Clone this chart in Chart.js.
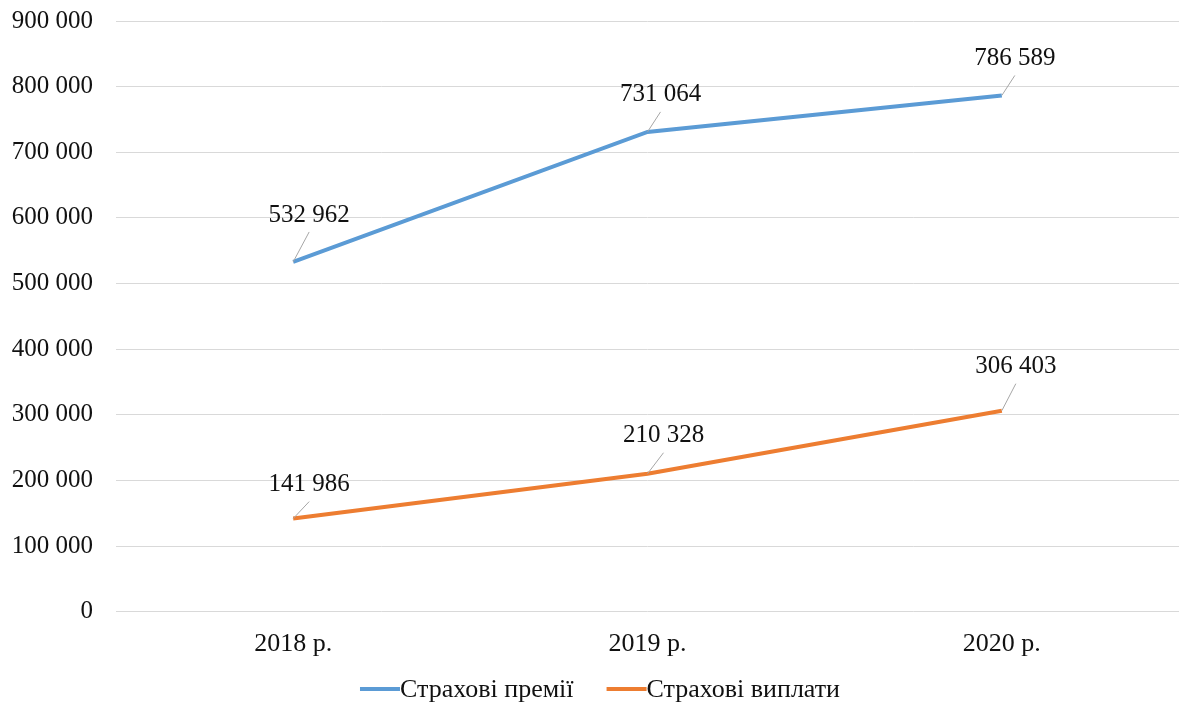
<!DOCTYPE html>
<html>
<head>
<meta charset="utf-8">
<script src="https://cdn.jsdelivr.net/npm/chart.js@4.4.1/dist/chart.umd.min.js"></script>
<style>
html,body{margin:0;padding:0;background:#fff;}
canvas{display:block;}
</style>
</head>
<body>
<canvas id="c" width="1179" height="704"></canvas>
<script>
const categories = ['2018 р.', '2019 р.', '2020 р.'];
const premiums = [532962, 731064, 786589];
const payouts = [141986, 210328, 306403];
const seriesNames = ['Страхові премії', 'Страхові виплати'];
const yTicks = [0, 100000, 200000, 300000, 400000, 500000, 600000, 700000, 800000, 900000];

const FONT = '"Liberation Serif", "Times New Roman", serif';
const fmt = v => String(v).replace(/\B(?=(\d{3})+(?!\d))/g, ' ');

// label placement (style), per dataset per point: [dx, dy] of label centre
const labelPlacement = [
  [[16, -47], [13, -37], [13, -37]],
  [[16, -34], [16, -38], [14, -44]]
];

const dataLabels = {
  id: 'dataLabels',
  afterDatasetsDraw(chart) {
    const ctx = chart.ctx;
    ctx.save();
    chart.data.datasets.forEach((ds, di) => {
      const meta = chart.getDatasetMeta(di);
      meta.data.forEach((pt, i) => {
        const [dx, dy] = labelPlacement[di][i];
        const lx = pt.x + dx, ly = pt.y + dy;
        ctx.strokeStyle = '#a6a6a6';
        ctx.lineWidth = 1;
        ctx.beginPath();
        ctx.moveTo(pt.x, pt.y);
        ctx.lineTo(lx, ly + 17);
        ctx.stroke();
        ctx.fillStyle = '#111';
        ctx.font = '25px ' + FONT;
        ctx.textAlign = 'center';
        ctx.textBaseline = 'middle';
        ctx.fillText(fmt(ds.data[i]), lx, ly);
      });
    });
    ctx.restore();
  }
};

// bottom legend: line swatch directly followed by text
const bottomLegend = {
  id: 'bottomLegend',
  afterDraw(chart) {
    const ctx = chart.ctx;
    ctx.save();
    ctx.font = '26px ' + FONT;
    const sw = 40, gap = 33, y = 689;
    const items = chart.data.datasets.map(ds => ({ text: ds.label, color: ds.borderColor, w: ctx.measureText(ds.label).width }));
    const total = items.reduce((s, it) => s + sw + it.w, 0) + gap * (items.length - 1);
    let x = 600 - total / 2;
    items.forEach(it => {
      ctx.fillStyle = it.color;
      ctx.fillRect(x, y - 2, sw, 4);
      ctx.fillStyle = '#111';
      ctx.textAlign = 'left';
      ctx.textBaseline = 'middle';
      ctx.fillText(it.text, x + sw, y + 1);
      x += sw + it.w + gap;
    });
    ctx.restore();
  }
};

new Chart(document.getElementById('c'), {
  type: 'line',
  data: {
    labels: categories,
    datasets: [
      { label: seriesNames[0], data: premiums, borderColor: '#5b9bd5', backgroundColor: '#5b9bd5', borderWidth: 4, pointRadius: 0, tension: 0 },
      { label: seriesNames[1], data: payouts, borderColor: '#ed7d31', backgroundColor: '#ed7d31', borderWidth: 4, pointRadius: 0, tension: 0 }
    ]
  },
  options: {
    responsive: false,
    animation: false,
    layout: { padding: { top: 21, right: 0, left: 0, bottom: 35 } },
    plugins: {
      legend: { display: false },
      tooltip: { enabled: false }
    },
    scales: {
      x: {
        offset: true,
        grid: { display: false },
        border: { display: false },
        ticks: { font: { family: FONT, size: 26 }, color: '#111', padding: 9 }
      },
      y: {
        min: 0, max: 900000,
        afterBuildTicks(scale) { scale.ticks = yTicks.map(v => ({ value: v })); },
        afterFit(scale) { scale.width = 116; scale.paddingTop = 0; scale.paddingBottom = 0; },
        grid: { color: '#d9d9d9', lineWidth: 1, drawTicks: false },
        border: { display: false },
        ticks: { font: { family: FONT, size: 25 }, color: '#111', padding: 23, callback: v => fmt(v) }
      }
    }
  },
  plugins: [dataLabels, bottomLegend]
});
</script>
</body>
</html>
